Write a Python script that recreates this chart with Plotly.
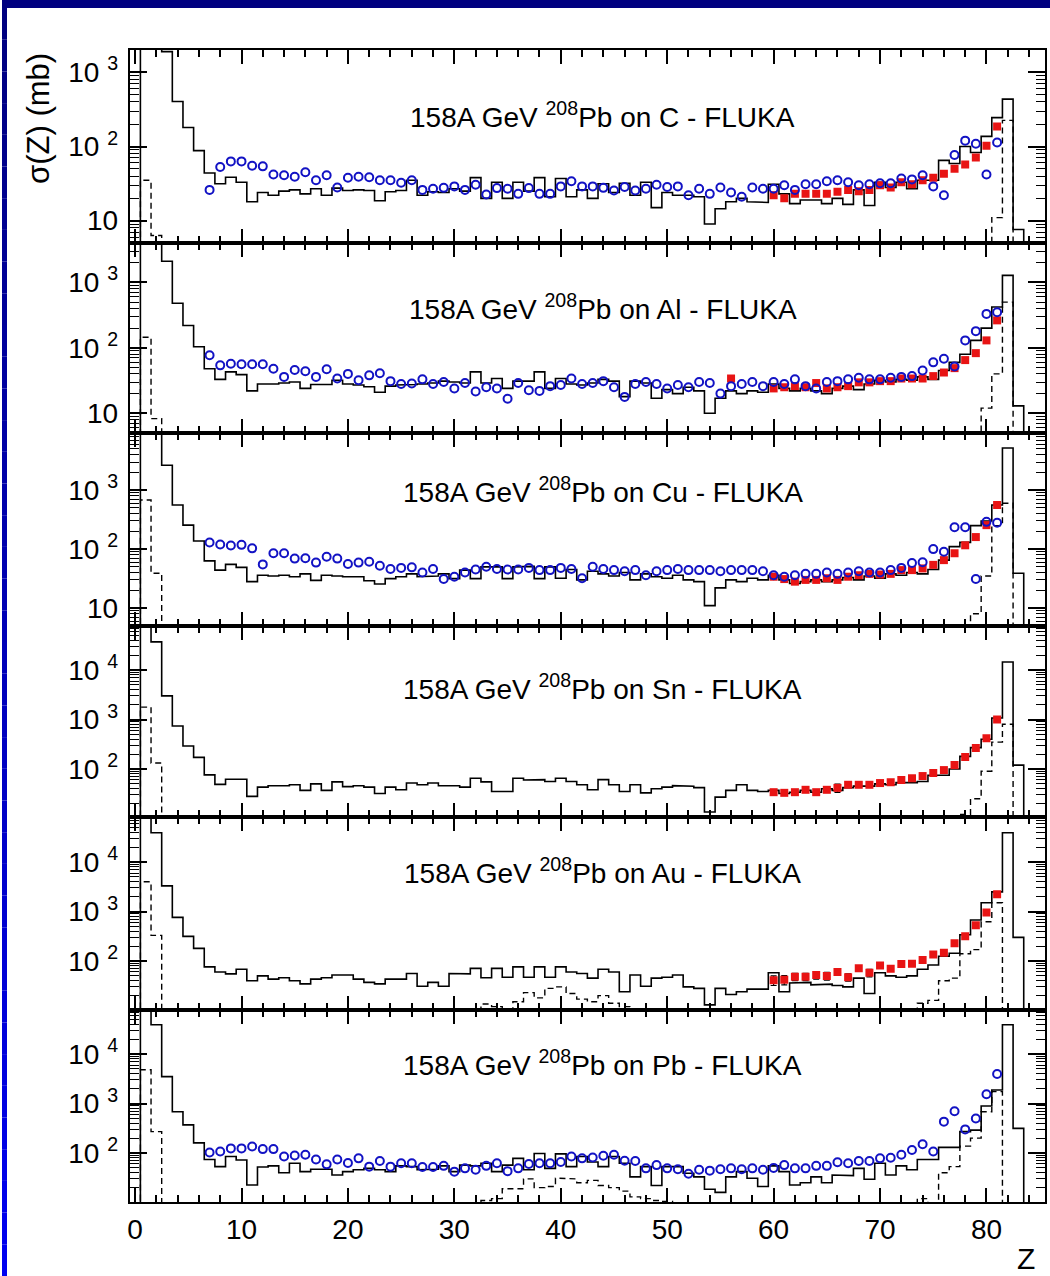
import math
import plotly.graph_objects as go

W, H = 1050, 1276
FONT = "Liberation Sans, Arial, Helvetica, sans-serif"
BLUE = "#1212c4"
RED = "#e81414"

# charge bins of the fragment histograms
Z = list(range(1, 85))
BLUE_Z = list(range(7, 82))
RED_Z = list(range(60, 82))

# ---------------- Pb on C ----------------
hist_C = [1e6, 1e5, 1900, 405, 180, 88, 44, 31.5, 38.5, 33,
          18, 24, 22, 25, 26, 23, 27, 22, 27.5, 25.5,
          26, 25.5, 18.6, 24.6, 25.5, 35, 22, 24.6, 24, 27,
          25, 38, 20, 33, 20, 33, 25, 38, 21, 37,
          21, 26, 20, 31.5, 24, 32, 22, 33, 15, 24,
          22, 22, 21, 9, 14.5, 18, 20, 18, 17.6, 31,
          23, 17, 19, 19, 17, 20, 16.6, 26, 16, 33,
          28, 33, 27, 35, 35, 65, 59, 100, 83, 137,
          245, 435, 7.6, 0]
dash_Z_C = [1, 2, 81, 82]
dash_C = [35, 6.3, 11, 225]
blue_C = [26, 53, 63, 63, 55, 54, 42, 41, 39, 45,
          35, 41, 28, 38, 39, 38.5, 35, 35, 32.5, 35,
          26, 27, 27.7, 29, 26, 30.5, 22.5, 27.5, 27, 23,
          27.5, 23, 23, 29, 34, 29, 29, 27.7, 25.5, 28.5,
          25.5, 27, 30.5, 28.5, 29, 22, 27, 23, 28, 24,
          21, 28, 27, 27, 30, 26, 31, 31, 34, 35,
          33, 30, 31, 32, 32, 37, 36, 41, 29, 22,
          77, 120, 109, 42, 113]
red_Z_C = RED_Z
red_C = [22, 20, 23, 23, 23, 23, 24.5, 26, 25, 26,
         30, 28, 33, 31, 35, 38, 43, 50, 57, 71,
         102, 186]

# ---------------- Pb on Al ----------------
hist_Al = [1e6, 1e5, 2100, 480, 220, 104, 48, 33, 43, 39,
           22, 28, 28, 29, 30, 24, 27.5, 27.5, 32, 28,
           27, 25.5, 21, 26, 27, 27.5, 28, 29, 31, 30,
           29, 43, 29, 34, 24, 31, 31, 43, 24, 34,
           28, 27, 29, 33, 31, 18, 31, 29, 17, 23,
           20, 25, 22, 10, 17, 22, 20, 22, 21, 28,
           24, 22, 24, 22, 20, 24, 26, 23, 28, 32,
           30, 33, 32, 36, 33, 45, 60, 80, 130, 200,
           420, 1280, 13, 0]
dash_Z_Al = [1, 2, 80, 81, 82]
dash_Al = [145, 8.3, 12, 40, 500]
blue_Al = [77, 54, 57, 56, 56, 56, 48, 36, 46, 44,
           36, 47, 34, 40, 32, 38, 41, 31, 28, 28.5,
           33, 28, 30, 24, 29, 21.5, 25, 24, 16.7, 29,
           22.5, 22, 26, 27, 34, 28, 29, 31, 25, 17.8,
           28, 30, 28, 24, 27, 25, 30, 29, 20, 26,
           28, 30, 26, 30, 28, 33, 26, 24, 30, 31,
           33, 35, 33, 33, 35, 36, 37, 45, 60, 68,
           52, 130, 180, 330, 350]
red_Z_Al = [56] + RED_Z
red_Al = [34,
          24, 25, 26, 25, 29, 24, 25, 26, 29.7, 29.7,
          31, 31, 34, 34, 34, 37, 42, 49, 65, 83,
          130, 263]

# ---------------- Pb on Cu ----------------
hist_Cu = [1e6, 1e5, 2650, 560, 255, 137, 63, 44, 55, 49,
           28, 36, 35, 36, 34, 38, 29.5, 36, 35, 34,
           34, 29, 25.5, 31.5, 34, 38, 34, 35, 38, 31.5,
           44, 31.5, 50, 50, 31.5, 50, 51, 31.5, 50, 32,
           45, 30, 42, 38, 35, 40, 30, 38, 34, 32,
           36, 30, 28, 11, 22, 30, 28, 32, 30, 36,
           30, 26, 28, 30, 28, 30, 33, 30, 35, 32,
           38, 36, 40, 38, 45, 65, 110, 130, 250, 300,
           560, 5200, 39, 0]
dash_Z_Cu = [1, 2, 79, 80, 81, 82]
dash_Cu = [680, 39, 8, 35, 250, 600]
blue_Cu = [129, 120, 115, 118, 103, 55, 85, 85, 69, 70,
           59, 74, 69, 56, 59, 61, 52, 46, 48, 49,
           40, 46, 31, 34, 40, 45, 50, 46, 45, 45,
           48, 44, 44, 48, 46, 32, 50, 46, 44, 42,
           44, 36, 42, 44, 46, 44, 44, 44, 42, 44,
           44, 44, 42, 36, 34, 36, 38, 38, 40, 38,
           40, 42, 40, 40, 44, 48, 58, 60, 100, 90,
           235, 235, 31, 290, 280]
red_Z_Cu = RED_Z
red_Cu = [34, 31, 28, 30, 30, 32, 30, 34, 36, 38,
          37, 38, 44, 44, 47, 54, 65, 85, 116, 160,
          255, 560]

# ---------------- Pb on Sn ----------------
hist_Sn = [1e6, 37000, 3000, 740, 292, 172, 76, 49, 62, 62,
           28, 43, 46, 46, 48, 37, 50, 37, 55, 44,
           46, 43, 32, 43, 38, 52, 48, 52, 46, 46,
           43, 65, 55, 35, 35, 65, 60, 61, 56, 65,
           56, 48, 38, 61, 48, 35, 48, 33, 40, 43,
           46, 45, 42, 13.5, 27, 37, 48, 37, 35, 37,
           32, 34, 37, 34, 40, 37, 42, 45, 45, 50,
           48, 53, 53, 56, 75, 75, 100, 180, 270, 400,
           1070, 14500, 120, 0]
dash_Z_Sn = [1, 2, 78, 79, 80, 81, 82]
dash_Sn = [1780, 132, 12, 25, 90, 350, 800]
red_Z_Sn = RED_Z
red_Sn = [34, 33, 34, 38, 34, 38, 41.5, 48, 48, 48,
          52, 54, 60, 65, 72, 83, 95, 120, 175, 265,
          420, 1000]
red_err_Sn = [0, 0, 0, 0, 0, 0, 8, 0, 0, 0,
              0, 0, 0, 0, 0, 0, 0, 0, 0, 0,
              0, 0]

# ---------------- Pb on Au ----------------
hist_Au = [1e6, 39000, 3300, 760, 315, 180, 76, 60, 55, 68,
           40, 50, 43, 46, 40, 34.5, 43, 46, 52, 52,
           43, 37, 34.5, 43, 43, 56, 31, 37, 31, 56,
           55, 71, 46, 71, 47, 76, 47, 76, 47, 76,
           60, 56, 45, 68, 60, 24, 52, 31, 45, 47,
           52, 30, 28, 13, 28, 21, 24, 27, 27, 58,
           24, 36, 37, 33, 34, 32, 30, 45, 22, 58,
           50, 47, 50, 68, 83, 125, 143, 340, 675, 1500,
           2500, 39000, 300, 0]
dash_Z_Au = [1, 2, 33, 34, 36, 37, 38, 39, 40, 41, 42, 43, 44, 45, 46,
             74, 75, 76, 77, 78, 79, 80, 81]
dash_Au = [4000, 330, 13.5, 12, 15, 23, 18, 28, 30, 22, 17, 15, 20, 14, 12,
           14, 16, 40, 45, 140, 170, 620, 1500]
red_Z_Au = RED_Z
red_Au = [41, 42, 48, 48, 52, 50, 60, 47, 71, 58,
          81, 70, 87, 88, 105, 135, 147, 228, 315, 530,
          950, 2230]
red_err_Au = [9, 9, 8, 8, 9, 9, 0, 8, 0, 10,
              0, 0, 0, 0, 0, 0, 0, 0, 0, 0,
              0, 0]

# ---------------- Pb on Pb ----------------
hist_Pb = [1e6, 39000, 3500, 680, 370, 160, 74, 53, 85, 72,
           22.5, 52, 55, 40, 62, 42, 47, 47, 36, 42,
           46, 49, 46, 42, 55, 53, 46, 47, 55, 42,
           57, 55, 62, 42, 57, 78, 46, 98, 49, 96,
           53, 85, 66, 53, 85, 62, 33, 53, 22, 53,
           53, 39, 33, 18.5, 16, 33, 42, 31, 21, 55,
           42, 22.5, 25, 33, 25, 36, 35, 49, 29.5, 62,
           36, 55, 46, 74, 74, 130, 130, 270, 290, 890,
           1880, 39000, 315, 0]
dash_Z_Pb = [1, 2, 33, 34, 35, 36, 37, 38, 39, 40, 41, 42, 43, 44, 45, 46,
             47, 48, 49, 50, 74, 76, 77, 78, 79, 80, 81]
dash_Pb = [4800, 270, 11, 12, 19, 19, 30, 20, 21, 31, 30, 25, 28, 22, 20, 17,
           13, 12, 11, 10.5, 12, 40, 53, 138, 200, 680, 1740]
blue_Pb = [102, 107, 124, 124, 135, 120, 120, 85, 89, 92,
           74, 59, 74, 63, 78, 53, 69, 53, 62, 62,
           52, 52, 55, 42, 49, 46, 55, 62, 43, 49,
           60, 62, 62, 66, 85, 78, 81, 88, 92, 70,
           69, 49, 57, 49, 47, 38, 46, 44, 47, 49,
           47, 49, 46, 50, 57, 49, 49, 55, 55, 65,
           62, 69, 69, 78, 80, 92, 115, 150, 107, 430,
           700, 300, 500, 1540, 3950]

targets = ["C", "Al", "Cu", "Sn", "Au", "Pb"]

# vertical extent of every panel (pixels from the top) and its log10 y range
panel_px = [(50, 243), (243, 433), (433, 626), (626, 817), (817, 1010), (1010, 1202)]
log_ranges = [(0.699, 3.301), (0.699, 3.602), (0.695, 3.97),
              (1.03, 4.89), (1.01, 4.91), (1.01, 4.89)]
title_px = [115, 307, 490, 687, 871, 1063]

panels = [
    dict(hist=hist_C, dz=dash_Z_C, dv=dash_C, blue=blue_C, rz=red_Z_C, rv=red_C, re=None),
    dict(hist=hist_Al, dz=dash_Z_Al, dv=dash_Al, blue=blue_Al, rz=red_Z_Al, rv=red_Al, re=None),
    dict(hist=hist_Cu, dz=dash_Z_Cu, dv=dash_Cu, blue=blue_Cu, rz=red_Z_Cu, rv=red_Cu, re=None),
    dict(hist=hist_Sn, dz=dash_Z_Sn, dv=dash_Sn, blue=None, rz=red_Z_Sn, rv=red_Sn, re=red_err_Sn),
    dict(hist=hist_Au, dz=dash_Z_Au, dv=dash_Au, blue=None, rz=red_Z_Au, rv=red_Au, re=red_err_Au),
    dict(hist=hist_Pb, dz=dash_Z_Pb, dv=dash_Pb, blue=blue_Pb, rz=None, rv=None, re=None),
]

FLOOR = 1e-3  # empty bins fall below every panel


def step_xy(zs, vals):
    """Outline of a unit-bin histogram: bin edges at Z +- 0.5."""
    filled = dict(zip(zs, vals))
    xs, ys = [Z[0] - 0.5], [FLOOR]
    for z in Z:
        v = filled.get(z, 0) or FLOOR
        xs += [z - 0.5, z + 0.5]
        ys += [v, v]
    xs.append(Z[-1] + 0.5)
    ys.append(FLOOR)
    return xs, ys


fig = go.Figure()
x_dom = [128 / W, 1045 / W]
sup_labels = {10: "10", 100: "10 <sup>2</sup>", 1000: "10 <sup>3</sup>", 10000: "10 <sup>4</sup>"}

for i, p in enumerate(panels):
    n = i + 1
    xa, ya = f"x{n}", f"y{n}"

    hx, hy = step_xy(Z, p["hist"])
    fig.add_trace(go.Scatter(x=hx, y=hy, mode="lines", xaxis=xa, yaxis=ya,
                             line=dict(color="black", width=1.6), hoverinfo="skip"))
    dx, dy = step_xy(p["dz"], p["dv"])
    fig.add_trace(go.Scatter(x=dx, y=dy, mode="lines", xaxis=xa, yaxis=ya,
                             line=dict(color="black", width=1.4, dash="6px,4px"),
                             hoverinfo="skip"))
    if p["rv"] is not None:
        err = None
        if p["re"] is not None:
            err = dict(type="data", array=p["re"], color="black", thickness=1.2, width=3)
        fig.add_trace(go.Scatter(x=p["rz"], y=p["rv"], mode="markers", xaxis=xa, yaxis=ya,
                                 error_y=err,
                                 marker=dict(symbol="square", size=8, color=RED)))
    if p["blue"] is not None:
        fig.add_trace(go.Scatter(x=BLUE_Z, y=p["blue"], mode="markers", xaxis=xa, yaxis=ya,
                                 marker=dict(symbol="circle-open", size=8, color=BLUE,
                                             line=dict(width=2, color=BLUE))))

    top, bot = panel_px[i]
    lo, hi = log_ranges[i]
    y_dom = [1 - bot / H, 1 - top / H]
    majors = [v for v in (10, 100, 1000, 10000) if lo <= math.log10(v) <= hi]
    minors = [m * 10 ** e for e in range(0, 5) for m in range(2, 10)
              if lo <= math.log10(m * 10 ** e) <= hi]

    fig.layout[f"xaxis{n}"] = dict(
        domain=x_dom, anchor=ya, range=[-0.5, 85.5],
        showline=True, linecolor="black", linewidth=2, mirror="ticks",
        ticks="inside", ticklen=14, tickwidth=1.5, tickcolor="black",
        tick0=0, dtick=10,
        minor=dict(ticks="inside", ticklen=7, tickwidth=1.5, tickcolor="black",
                   tick0=0, dtick=2),
        showgrid=False, zeroline=False,
        showticklabels=(n == 6),
        tickfont=dict(family=FONT, size=28, color="black"),
        ticklabelstandoff=1,
    )
    if n < 6:
        fig.layout[f"xaxis{n}"]["matches"] = "x6"
    fig.layout[f"yaxis{n}"] = dict(
        domain=y_dom, anchor=xa, type="log", range=[lo, hi],
        showline=True, linecolor="black", linewidth=2, mirror="ticks",
        ticks="inside", ticklen=17, tickwidth=1.5, tickcolor="black",
        tickvals=majors, ticktext=[sup_labels[v] for v in majors],
        minor=dict(ticks="inside", ticklen=9, tickwidth=1.2, tickcolor="black",
                   tickvals=minors),
        showgrid=False, zeroline=False,
        tickfont=dict(family=FONT, size=28, color="black"),
        ticklabelstandoff=4,
    )

    fig.add_annotation(xref="paper", yref="paper", x=602 / W, y=1 - title_px[i] / H,
                       text=f"158A GeV <sup>208</sup>Pb on {targets[i]} - FLUKA",
                       showarrow=False, xanchor="center", yanchor="middle",
                       font=dict(family=FONT, size=28, color="black"))

# axis titles
fig.add_annotation(xref="paper", yref="paper", x=37 / W, y=1 - 118 / H,
                   text="σ(Z) (mb)", textangle=-90, showarrow=False,
                   xanchor="center", yanchor="middle",
                   font=dict(family=FONT, size=31, color="black"))
fig.add_annotation(xref="paper", yref="paper", x=1026 / W, y=1 - 1258 / H,
                   text="Z", showarrow=False, xanchor="center", yanchor="middle",
                   font=dict(family=FONT, size=30, color="black"))

# slide frame: navy band on top, blue band down the left edge
shapes = [dict(type="rect", xref="paper", yref="paper", x0=0, x1=1,
               y0=1 - 8 / H, y1=1, fillcolor="#000080", line=dict(width=0), layer="above")]
steps = 40
for k in range(steps):
    t = k / (steps - 1)
    b = int(128 + t * (240 - 128))
    shapes.append(dict(type="rect", xref="paper", yref="paper", x0=0, x1=5 / W,
                       y0=1 - (8 + (k + 1) * (H - 8) / steps) / H,
                       y1=1 - (8 + k * (H - 8) / steps) / H,
                       fillcolor=f"rgb(0,0,{b})", line=dict(width=0), layer="above"))

fig.update_layout(width=W, height=H, margin=dict(l=0, r=0, t=0, b=0),
                  paper_bgcolor="white", plot_bgcolor="white",
                  showlegend=False, shapes=shapes,
                  font=dict(family=FONT, color="black"))

fig.write_html("out.html")
